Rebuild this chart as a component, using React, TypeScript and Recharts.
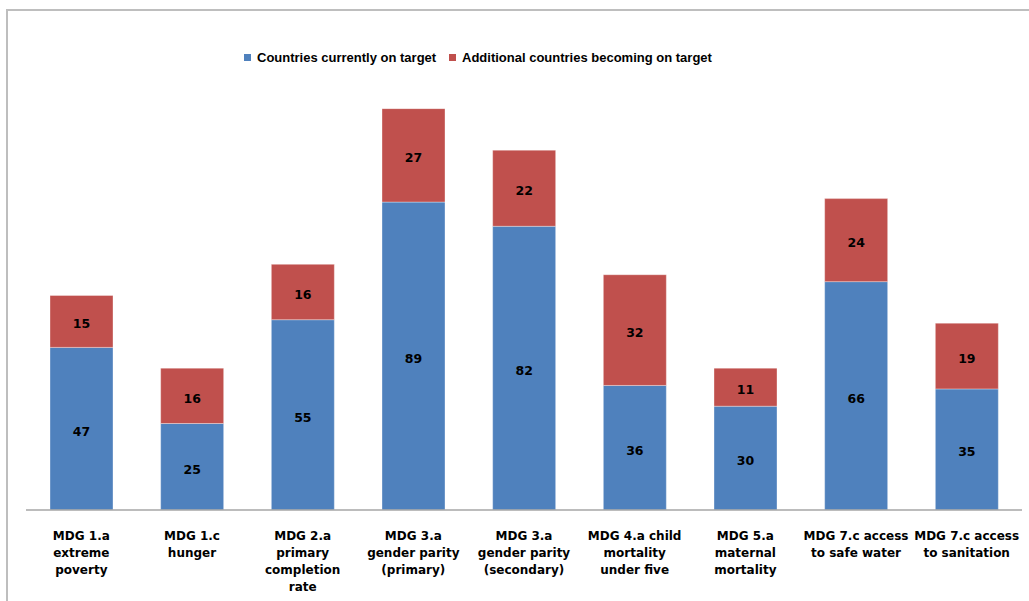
import React from 'react';
import { BarChart, Bar, XAxis, YAxis, Legend, LabelList } from 'recharts';

const categories = [
  'MDG 1.a\nextreme\npoverty',
  'MDG 1.c\nhunger',
  'MDG 2.a\nprimary\ncompletion\nrate',
  'MDG 3.a\ngender parity\n(primary)',
  'MDG 3.a\ngender parity\n(secondary)',
  'MDG 4.a child\nmortality\nunder five',
  'MDG 5.a\nmaternal\nmortality',
  'MDG 7.c access\nto safe water',
  'MDG 7.c access\nto sanitation',
];
const currentOnTarget = [47, 25, 55, 89, 82, 36, 30, 66, 35];
const additionalOnTarget = [15, 16, 16, 27, 22, 32, 11, 24, 19];
const seriesNames = ['Countries currently on target', 'Additional countries becoming on target'];
const colors = ['#4F81BD', '#C0504D'];

const data = categories.map((c, i) => ({
  name: c,
  current: currentOnTarget[i],
  additional: additionalOnTarget[i],
}));

const FONT = '"DejaVu Sans", Verdana, sans-serif';

const Tick = (props: any) => {
  const { x, y, payload } = props;
  const lines = String(payload.value).split('\n');
  return (
    <g>
      <text x={x} y={y} textAnchor="middle" fontFamily={FONT} fontWeight="bold" fontSize={12} fill="#000">
        {lines.map((l, i) => (
          <tspan key={i} x={x} dy={i === 0 ? 29.5 : 17}>{l}</tspan>
        ))}
      </text>
    </g>
  );
};

const BarLabel = (props: any) => {
  const { x, y, width, height, value } = props;
  return (
    <text
      x={Number(x) + Number(width) / 2}
      y={Number(y) + Number(height) / 2 + 2.5}
      dy="0.36em"
      textAnchor="middle"
      fontFamily={FONT}
      fontWeight="bold"
      fontSize={12.5}
      fill="#000"
    >
      {value}
    </text>
  );
};

const renderLegend = () => (
  <div style={{ position: 'relative', height: 16, fontFamily: '"Liberation Sans", Arial, sans-serif', fontWeight: 'bold', fontSize: 13, color: '#000' }}>
    {seriesNames.map((n, i) => (
      <div key={n} style={{ position: 'absolute', left: i === 0 ? 244 : 449, top: 0, height: 16, display: 'flex', alignItems: 'center', whiteSpace: 'nowrap' }}>
        <span style={{ display: 'inline-block', width: 7, height: 7, background: colors[i], marginRight: 6 }} />
        <span>{n}</span>
      </div>
    ))}
  </div>
);

export default function App() {
  return (
    <div style={{ position: 'fixed', left: 0, top: 0, width: 1029, height: 601, overflow: 'hidden', background: '#fff' }}>
      <div style={{ position: 'absolute', left: 6, top: 9, width: 1200, height: 800, borderLeft: '2px solid #BEBEBE', borderTop: '2px solid #BEBEBE' }} />
      <div style={{ position: 'absolute', left: 0, top: 0 }}>
        <BarChart
          width={1029}
          height={601}
          data={data}
          margin={{ top: 9.6, right: 7, left: 26, bottom: 0 }}
          barSize={63}
        >
          <YAxis hide domain={[0, 140]} />
          <XAxis
            dataKey="name"
            height={91}
            tick={<Tick />}
            tickLine={false}
            tickSize={0}
            tickMargin={0}
            interval={0}
            axisLine={{ stroke: '#A6A6A6', strokeWidth: 1.5 }}
          />
          <Legend
            verticalAlign="top"
            content={renderLegend}
            wrapperStyle={{ position: 'absolute', top: 49, left: 0, width: 1029, height: 16 }}
          />
          <Bar dataKey="current" name={seriesNames[0]} stackId="a" fill={colors[0]} stroke="#ffffff" strokeOpacity={0.35} strokeWidth={1} isAnimationActive={false}>
            <LabelList dataKey="current" content={<BarLabel />} />
          </Bar>
          <Bar dataKey="additional" name={seriesNames[1]} stackId="a" fill={colors[1]} stroke="#ffffff" strokeOpacity={0.35} strokeWidth={1} isAnimationActive={false}>
            <LabelList dataKey="additional" content={<BarLabel />} />
          </Bar>
        </BarChart>
      </div>
    </div>
  );
}
